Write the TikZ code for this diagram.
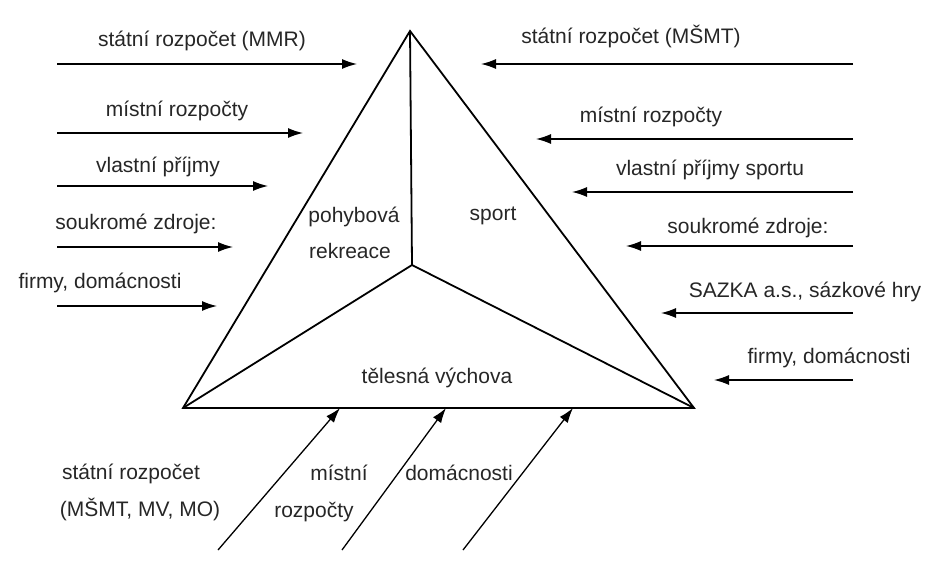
\documentclass[tikz,border=0pt]{standalone}
\usepackage{fontspec}
\setmainfont{Liberation Sans}
\usetikzlibrary{arrows.meta}

\begin{document}
\begin{tikzpicture}[x=1pt, y=-1pt, font=\fontsize{21}{25}\selectfont, text=black!85]
	\tikzstyle{flow}=[line width=1.3pt, -{Latex[length=15pt,width=10pt]}]
	\tikzstyle{side}=[line width=1.8pt, line join=miter]
	\tikzstyle{lbl}=[anchor=base, inner sep=0pt]

	\useasboundingbox (0,0) rectangle (928,575);

	% triangle
	\coordinate (apex) at (410,31);
	\coordinate (left) at (183,408);
	\coordinate (right) at (694,408);
	\coordinate (mid) at (412,265);
	\draw[side] (apex) -- (left) -- (right) -- cycle;
	\draw[side] (apex) -- (mid) (left) -- (mid) -- (right);

	\node[lbl] (rekr1) at (354,222) {pohybová};
	\node[lbl] (rekr2) at (350,258) {rekreace};
	\node[lbl] (sport) at (493,220) {sport};
	\node[lbl] (tv) at (437,383) {tělesná výchova};

	% left side
	\node[lbl] (l1) at (202,47) {státní rozpočet (MMR)};
	\node[lbl] (l2) at (177,117) {místní rozpočty};
	\node[lbl] (l3) at (158,172) {vlastní příjmy};
	\node[lbl] (l4) at (136,229) {soukromé zdroje:};
	\node[lbl] (l5) at (100,288) {firmy, domácnosti};
	\coordinate (l1s) at (57,64);  \coordinate (l1t) at (357,64);
	\coordinate (l2s) at (57,133); \coordinate (l2t) at (303,133);
	\coordinate (l3s) at (57,186); \coordinate (l3t) at (268,186);
	\coordinate (l4s) at (57,247); \coordinate (l4t) at (233,247);
	\coordinate (l5s) at (57,306); \coordinate (l5t) at (217,306);
	\draw[flow] (l1s) -- (l1t);
	\draw[flow] (l2s) -- (l2t);
	\draw[flow] (l3s) -- (l3t);
	\draw[flow] (l4s) -- (l4t);
	\draw[flow] (l5s) -- (l5t);

	% right side
	\node[lbl] (r1) at (631,44) {státní rozpočet (MŠMT)};
	\node[lbl] (r2) at (651,122) {místní rozpočty};
	\node[lbl] (r3) at (710,175) {vlastní příjmy sportu};
	\node[lbl] (r4) at (748,233) {soukromé zdroje:};
	\node[lbl] (r5) at (805,297) {SAZKA a.s., sázkové hry};
	\node[lbl] (r6) at (829,363) {firmy, domácnosti};
	\coordinate (r1s) at (853,64);  \coordinate (r1t) at (481,64);
	\coordinate (r2s) at (853,139); \coordinate (r2t) at (536,139);
	\coordinate (r3s) at (853,192); \coordinate (r3t) at (572,192);
	\coordinate (r4s) at (853,246); \coordinate (r4t) at (626,246);
	\coordinate (r5s) at (853,313); \coordinate (r5t) at (661,313);
	\coordinate (r6s) at (853,380); \coordinate (r6t) at (714,380);
	\draw[flow] (r1s) -- (r1t);
	\draw[flow] (r2s) -- (r2t);
	\draw[flow] (r3s) -- (r3t);
	\draw[flow] (r4s) -- (r4t);
	\draw[flow] (r5s) -- (r5t);
	\draw[flow] (r6s) -- (r6t);

	% bottom
	\node[lbl] (b1a) at (131,479) {státní rozpočet};
	\node[lbl] (b1b) at (140,516) {(MŠMT, MV, MO)};
	\node[lbl] (b2a) at (339,480) {místní};
	\node[lbl] (b2b) at (314,517) {rozpočty};
	\node[lbl] (b3) at (459,480) {domácnosti};
	\coordinate (b1s) at (218,550); \coordinate (b1t) at (340,408);
	\coordinate (b2s) at (342,550); \coordinate (b2t) at (446,408);
	\coordinate (b3s) at (463,550); \coordinate (b3t) at (573,408);
	\draw[flow] (b1s) -- (b1t);
	\draw[flow] (b2s) -- (b2t);
	\draw[flow] (b3s) -- (b3t);
\end{tikzpicture}
\end{document}
